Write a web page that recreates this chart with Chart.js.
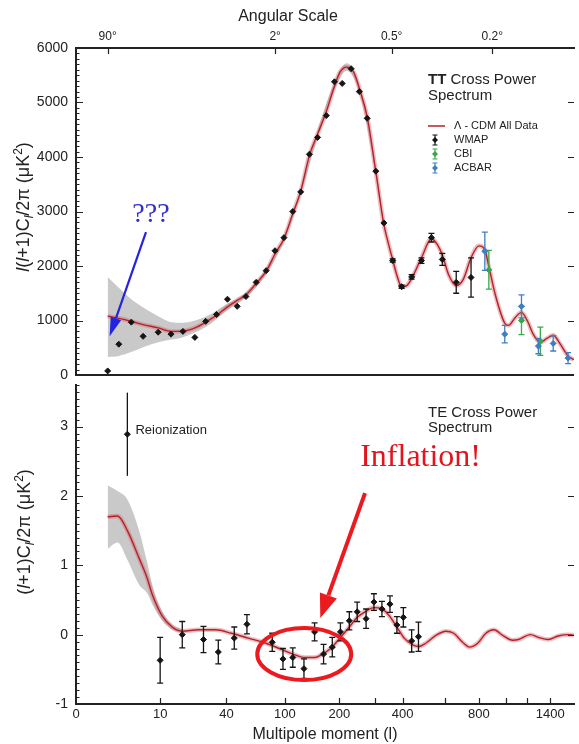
<!DOCTYPE html>
<html><head><meta charset="utf-8">
<script src="https://cdn.jsdelivr.net/npm/chart.js@4.4.1/dist/chart.umd.min.js"></script>
<style>
html,body{margin:0;padding:0;background:#fff;}
body{width:579px;height:744px;position:relative;overflow:hidden;}
canvas{position:absolute;left:0;display:block;}
#tt{top:0}#te{top:380px}
</style></head><body>
<canvas id="tt" width="579" height="380"></canvas>
<canvas id="te" width="579" height="364"></canvas>
<script>
// ---------------- DATA ----------------
// TT: Lambda-CDM model curve
const ttModelL = [2,3.7,5.6,7.4,9.7,15,20,26,31,36,41,51,60,70,81,90,99,114,129,145,160,176,191,202,220,240,256,278,303,332,343,364,382,396,419,442,488,535,563,586,620,665,706,753,800,844,874,926,993,1025,1090,1145,1200,1250,1313,1370,1430,1500,1580,1640];
const ttModelV = [1080,1040,985,925,865,800,805,870,980,1110,1250,1370,1470,1670,1910,2230,2500,2950,3370,4030,4420,4830,5300,5560,5650,5560,5260,4740,3730,2760,2520,2110,1780,1620,1640,1770,2150,2500,2390,2200,1840,1640,1750,2150,2370,2300,1990,1440,950,910,1060,1150,990,750,600,670,730,570,350,280];
// TT: cosmic variance band
const ttBandL  = [2,3.7,5.6,7.4,9.7,15,20,31,41,60,81,99,129,160,191,220,256,303,332];
const ttBandHi = [1800,1600,1390,1240,1080,970,960,1080,1310,1520,1960,2550,3420,4480,5370,5720,5330,3790,2790];
const ttBandLo = [330,350,420,510,600,650,690,890,1190,1420,1860,2450,3320,4360,5230,5580,5190,3670,2730];
// TT: WMAP
const wmapTTL = [2,3.7,5.6,7.4,9.7,14.9,20.3,25.7,30.6,35.5,41,51,60,70.5,80.7,89.8,99,114.5,129,145,160,176,191,208,233,256,278,303,332,364,396,442,488,535,586,665,753];
const wmapTTV = [75,565,970,710,785,750,800,690,985,1110,1390,1260,1440,1700,1915,2280,2520,3000,3360,4050,4360,4760,5380,5350,5620,5200,4710,3740,2790,2100,1620,1800,2100,2520,2120,1700,1790];
const wmapTTErr = [0,0,0,0,0,0,0,0,0,0,0,0,0,0,0,0,0,0,0,0,0,0,0,0,0,0,0,0,0,30,30,40,50,80,110,200,360];
// TT: CBI
const cbiL = [874,1145,1313];
const cbiV = [1930,1000,620];
const cbiErr = [355,260,260];
// TT: ACBAR
const acbarL = [844,993,1145,1296,1430,1580];
const acbarV = [2270,750,1260,530,580,310];
const acbarErr = [350,160,210,140,140,100];

// TE: model curve
const teModelL = [2,3.5,5,6.8,8,8.8,10.9,15.4,19.9,27.5,35.1,45,62.4,79.7,96,114.5,136,154.5,169,184,203,228,250,272,297,325,350,379,407,449,477,510,556,603,650,703,744,794,852,911,978,1064,1118,1226,1296,1383,1480,1580,1640];
const teModelV = [1.70,1.71,1.50,1.10,0.82,0.58,0.27,0.11,0.05,0.07,0.07,0.02,-0.05,-0.12,-0.21,-0.28,-0.33,-0.33,-0.28,-0.20,-0.04,0.11,0.25,0.33,0.39,0.37,0.28,0.11,-0.05,-0.15,-0.17,-0.12,-0.01,0.05,0.02,-0.11,-0.18,-0.12,0.02,0.07,-0.01,-0.08,-0.07,0.00,-0.04,-0.07,-0.02,0.00,-0.01];
// TE: band
const teBandL  = [2,3.5,5,6.8,8,8.8,10.9,15.4,19.9];
const teBandHi = [2.15,2.07,1.95,1.50,1.05,0.72,0.34,0.15,0.08];
const teBandLo = [1.24,1.33,1.08,0.72,0.60,0.44,0.20,0.07,0.02];
// TE: WMAP
const wmapTEL = [5,10,20,29.6,36.3,48,61,87,98,114.5,135,154.5,171,187,203,228,250,275,297,325,354,379,403,442,474];
const wmapTEV = [2.89,-0.37,0.0,-0.07,-0.25,-0.05,0.15,-0.11,-0.35,-0.33,-0.49,0.04,-0.28,-0.18,0.04,0.2,0.33,0.23,0.47,0.37,0.44,0.14,0.25,-0.09,-0.03];
const wmapTEErr = [0.6,0.33,0.19,0.19,0.17,0.16,0.14,0.13,0.15,0.14,0.14,0.13,0.14,0.14,0.13,0.13,0.14,0.14,0.12,0.11,0.12,0.12,0.14,0.16,0.21];
const wmapTECaps = [0,1,1,1,1,1,1,1,1,1,1,1,1,1,1,1,1,1,1,1,1,1,1,1,1];

// ticks
const bottomTickL = [0,10,40,100,200,300,400,600,800,1000,1200,1400];
const bottomTickLabels = ['0','10','40','100','200','','400','','800','','','1400'];
const angTickL = [2,90,360,900];
const angTickLabels = ['90°','2°','0.5°','0.2°'];
const ttYTicks = [0,1000,2000,3000,4000,5000,6000];
const teYTicks = [-1,0,1,2,3];

// ------------- multipole axis transform (piecewise, as in the figure) -------------
const axisKnotL = [0,2,10,40,100,200,300,400,600,800,1000,1200,1400,1600,1800];
const axisKnotT = [0,32,85,152,211,266,302,330,373,407,434,456,479,499,518];
const X_MAX = 503;
function T(l){
  for (let i=1;i<axisKnotL.length;i++){
    if (l<=axisKnotL[i]){
      const a=axisKnotL[i-1], b=axisKnotL[i];
      return axisKnotT[i-1] + (l-a)/(b-a)*(axisKnotT[i]-axisKnotT[i-1]);
    }
  }
  return axisKnotT[axisKnotT.length-1];
}
const pts = (L, V) => L.map((l,i)=>({x:T(l), y:V[i]}));

// ------------- styling -------------
const FONT = '"Liberation Sans", Arial, Helvetica, sans-serif';
const SERIF = '"Liberation Serif", "Times New Roman", serif';
Chart.defaults.font.family = FONT;
Chart.defaults.color = '#222';
const RED = '#b3222b', HALO = 'rgba(214,110,115,0.45)', BAND = '#c9c9c9';
const CLEAR = 'rgba(0,0,0,0)';
const fixBox = (w,h) => (s) => { if (w!=null) s.width=w; if (h!=null) s.height=h; s.paddingLeft=s.paddingRight=s.paddingTop=s.paddingBottom=0; };

const errorBarPlugin = {
  id:'errorBars',
  beforeDatasetDraw(chart, args){
    const ds = chart.data.datasets[args.index];
    if (!ds.errors) return;
    const ys = chart.scales[args.meta.yAxisID];
    const ctx = chart.ctx;
    ctx.save();
    ctx.strokeStyle = ds.errorColor;
    ctx.lineWidth = 1.3;
    args.meta.data.forEach((p,i)=>{
      const e = ds.errors[i]; if (!e) return;
      const v = ds.data[i].y;
      const y1 = ys.getPixelForValue(v+e), y2 = ys.getPixelForValue(v-e);
      const x = p.x, c = (ds.caps && !ds.caps[i]) ? 0 : 3;
      ctx.beginPath();
      ctx.moveTo(x,y1); ctx.lineTo(x,y2);
      if (c){
        ctx.moveTo(x-c,y1); ctx.lineTo(x+c,y1);
        ctx.moveTo(x-c,y2); ctx.lineTo(x+c,y2);
      }
      ctx.stroke();
    });
    ctx.restore();
  }
};

function seg(ctx,x1,y1,x2,y2){ ctx.moveTo(x1,y1); ctx.lineTo(x2,y2); }
function drawRichRotated(ctx, segs, cx, cy, base){
  ctx.save();
  ctx.translate(cx,cy); ctx.rotate(-Math.PI/2);
  ctx.textBaseline='alphabetic'; ctx.textAlign='left'; ctx.fillStyle='#222';
  let w=0;
  segs.forEach(s=>{ ctx.font=s.f; s.w=ctx.measureText(s.t).width; w+=s.w; });
  let x=-w/2;
  segs.forEach(s=>{ ctx.font=s.f; ctx.fillText(s.t, x, base+(s.dy||0)); x+=s.w; });
  ctx.restore();
}
function drawArrow(ctx,x1,y1,x2,y2,color,lw,headLen,headHalf){
  const ang=Math.atan2(y2-y1,x2-x1);
  const bx=x2-headLen*Math.cos(ang), by=y2-headLen*Math.sin(ang);
  ctx.save(); ctx.strokeStyle=color; ctx.fillStyle=color; ctx.lineWidth=lw;
  ctx.beginPath(); ctx.moveTo(x1,y1); ctx.lineTo(bx,by); ctx.stroke();
  ctx.beginPath(); ctx.moveTo(x2,y2);
  ctx.lineTo(bx+headHalf*Math.sin(ang), by-headHalf*Math.cos(ang));
  ctx.lineTo(bx-headHalf*Math.sin(ang), by+headHalf*Math.cos(ang));
  ctx.closePath(); ctx.fill(); ctx.restore();
}
const RF='18px '+FONT, IF='italic 18px '+FONT, SF='12px '+FONT, SIF='italic 12px '+FONT;

function legendMarker(ctx,x,y,color){
  ctx.save(); ctx.strokeStyle=color; ctx.fillStyle=color; ctx.lineWidth=1.2;
  ctx.beginPath(); seg(ctx,x,y-5,x,y+5); seg(ctx,x-2.5,y-5,x+2.5,y-5); seg(ctx,x-2.5,y+5,x+2.5,y+5); ctx.stroke();
  ctx.beginPath(); ctx.moveTo(x,y-3); ctx.lineTo(x+3,y); ctx.lineTo(x,y+3); ctx.lineTo(x-3,y); ctx.closePath(); ctx.fill();
  ctx.restore();
}

// ------------- TT decorations -------------
const ttDecor = {
  id:'ttDecor',
  afterDraw(chart){
    const {ctx, chartArea:a, scales:{x,y}} = chart;
    ctx.save();
    ctx.strokeStyle='#222'; ctx.lineWidth=1.2;
    ctx.beginPath();
    for (let v=0; v<=6000; v+=100){
      const py=Math.round(y.getPixelForValue(v))+0.5;
      const major = v%1000===0;
      seg(ctx,a.left,py,a.left+(major?7:3.5),py);
      if (major && v>0 && v<6000) seg(ctx,a.right,py,a.right-6,py);
    }
    angTickL.forEach(l=>{ const px=Math.round(x.getPixelForValue(T(l)))+0.5; seg(ctx,px,a.top,px,a.top+6); });
    ctx.stroke();
    ctx.lineWidth=2; ctx.beginPath(); seg(ctx,a.left-1,a.bottom,a.right,a.bottom); ctx.stroke();

    ctx.fillStyle='#222';
    ctx.font='16px '+FONT; ctx.textAlign='center'; ctx.textBaseline='middle';
    ctx.fillText('Angular Scale', 288, 17);

    drawRichRotated(ctx,[{t:'l',f:IF},{t:'(',f:RF},{t:'l',f:IF},{t:'+1)C',f:RF},{t:'l',f:SIF,dy:4},{t:'/2π (μK',f:RF},{t:'2',f:SF,dy:-7},{t:')',f:RF}], 23, 207, 6);

    // panel title
    ctx.textAlign='left'; ctx.textBaseline='middle';
    ctx.font='bold 15px '+FONT; ctx.fillText('TT', 428, 80);
    const wTT = ctx.measureText('TT').width;
    ctx.font='15px '+FONT; ctx.fillText(' Cross Power', 428+wTT, 80);
    ctx.fillText('Spectrum', 428, 96);

    // legend
    const ds = chart.data.datasets;
    ctx.strokeStyle=RED; ctx.lineWidth=1.5; ctx.beginPath(); seg(ctx,428,126,445,126); ctx.stroke();
    ctx.font='11px '+FONT; ctx.fillStyle='#222';
    ctx.fillText(ds[3].label, 454, 126);
    [[2,140],[1,154],[0,168]].forEach(([i,yy])=>{
      legendMarker(ctx,435,yy,ds[i].errorColor);
      ctx.fillStyle='#222'; ctx.fillText(ds[i].label, 454, yy);
    });

    // ??? annotation
    ctx.fillStyle='#3131c6'; ctx.font='28px '+SERIF; ctx.textAlign='center'; ctx.textBaseline='middle';
    ctx.fillText('???', x.getPixelForValue(T(8.6)), y.getPixelForValue(2950));
    drawArrow(ctx, x.getPixelForValue(T(7.84)), y.getPixelForValue(2620), x.getPixelForValue(T(2.3)), y.getPixelForValue(711), '#2424e0', 2.2, 19, 5.5);
    ctx.restore();
  }
};

// ------------- TE decorations -------------
const teDecor = {
  id:'teDecor',
  afterDraw(chart){
    const {ctx, chartArea:a, scales:{x,y}} = chart;
    ctx.save();
    ctx.strokeStyle='#222'; ctx.lineWidth=1.2;
    ctx.beginPath();
    for (let k=-10; k<=36; k++){
      const v=k/10;
      const py=Math.round(y.getPixelForValue(v))+0.5;
      const major = k%10===0;
      seg(ctx,a.left,py,a.left+(major?7:3.5),py);
      if (major && k>-10) seg(ctx,a.right,py,a.right-6,py);
    }
    bottomTickL.forEach(l=>{ if(l===0) return; const px=Math.round(x.getPixelForValue(T(l)))+0.5; seg(ctx,px,a.bottom,px,a.bottom-6); });
    ctx.stroke();

    drawRichRotated(ctx,[{t:'(',f:RF},{t:'l',f:IF},{t:'+1)C',f:RF},{t:'l',f:SIF,dy:4},{t:'/2π (μK',f:RF},{t:'2',f:SF,dy:-7},{t:')',f:RF}], 24, 152, 6);

    ctx.fillStyle='#222'; ctx.textAlign='left'; ctx.textBaseline='middle';
    ctx.font='15px '+FONT;
    ctx.fillText('TE Cross Power', 428, 33);
    ctx.fillText('Spectrum', 428, 48);

    ctx.font='13px '+FONT;
    ctx.fillText('Reionization', x.getPixelForValue(T(6.23)), y.getPixelForValue(2.95));

    // Inflation annotation
    ctx.fillStyle='#e2141c'; ctx.font='32px '+SERIF; ctx.textAlign='center';
    ctx.fillText('Inflation!', x.getPixelForValue(T(484)), y.getPixelForValue(2.55));
    drawArrow(ctx, x.getPixelForValue(T(272)), y.getPixelForValue(2.04), x.getPixelForValue(T(165)), y.getPixelForValue(0.24), '#ec1a1f', 4, 24, 9);
    ctx.strokeStyle='#ec1a1f'; ctx.lineWidth=4;
    ctx.beginPath();
    ctx.ellipse(x.getPixelForValue(T(135.5)), y.getPixelForValue(-0.28), 47, 26, 0, 0, Math.PI*2);
    ctx.stroke();
    ctx.restore();
  }
};

const pointDs = (label, L, V, E, color, caps) => ({
  label, data: pts(L,V), errors: E, caps, errorColor: color, showLine:false,
  pointStyle:'rectRot', pointRadius:3, pointBorderWidth:1,
  pointBackgroundColor:color, pointBorderColor:color
});
const curveDs = (label, L, V, color, w) => ({
  label, data: pts(L,V), borderColor:color, borderWidth:w, pointRadius:0,
  cubicInterpolationMode:'monotone', fill:false
});
const bandDs = (label, L, V, fill) => ({
  label, data: pts(L,V), borderColor:CLEAR, borderWidth:1, pointRadius:0,
  cubicInterpolationMode:'monotone', fill: fill ? '+1' : false, backgroundColor: BAND
});
const plainNum = v => String(v);

// ------------- TT chart -------------
new Chart(document.getElementById('tt'), {
  type:'line',
  data:{ datasets:[
    pointDs('ACBAR', acbarL, acbarV, acbarErr, '#3f7fc1'),
    pointDs('CBI', cbiL, cbiV, cbiErr, '#3aa84a'),
    pointDs('WMAP', wmapTTL, wmapTTV, wmapTTErr, '#151515'),
    curveDs('Λ - CDM All Data', ttModelL, ttModelV, RED, 1.4),
    curveDs('halo', ttModelL, ttModelV, HALO, 4.5),
    bandDs('band hi', ttBandL, ttBandHi, true),
    bandDs('band lo', ttBandL, ttBandLo, false)
  ]},
  options:{
    responsive:false, animation:false, events:[],
    layout:{padding:{top:0,left:0,right:0,bottom:3}},
    plugins:{legend:{display:false}, tooltip:{enabled:false}},
    scales:{
      x:{ type:'linear', position:'top', min:0, max:X_MAX,
        afterBuildTicks:s=>{ s.ticks = angTickL.map(l=>({value:T(l)})); },
        afterFit: fixBox(null,48),
        ticks:{ callback:(v,i)=>angTickLabels[i], font:{size:12}, color:'#222', padding:4, maxRotation:0, autoSkip:false },
        grid:{display:false, drawTicks:false},
        border:{display:true, color:'#222', width:2}
      },
      y:{ type:'linear', position:'left', min:0, max:6000,
        afterBuildTicks:s=>{ s.ticks = ttYTicks.map(v=>({value:v})); },
        afterFit: fixBox(76,null),
        ticks:{ callback: plainNum, font:{size:14}, color:'#222', padding:8 },
        grid:{display:false, drawTicks:false},
        border:{display:true, color:'#222', width:2}
      }
    }
  },
  plugins:[errorBarPlugin, ttDecor]
});

// ------------- TE chart -------------
new Chart(document.getElementById('te'), {
  type:'line',
  data:{ datasets:[
    pointDs('WMAP', wmapTEL, wmapTEV, wmapTEErr, '#151515', wmapTECaps),
    curveDs('Λ - CDM', teModelL, teModelV, RED, 1.4),
    curveDs('halo', teModelL, teModelV, HALO, 4.5),
    bandDs('band hi', teBandL, teBandHi, true),
    bandDs('band lo', teBandL, teBandLo, false)
  ]},
  options:{
    responsive:false, animation:false, events:[],
    layout:{padding:{top:5,left:0,right:0,bottom:0}},
    plugins:{legend:{display:false}, tooltip:{enabled:false}},
    scales:{
      x:{ type:'linear', position:'bottom', min:0, max:X_MAX,
        afterBuildTicks:s=>{ s.ticks = bottomTickL.map(l=>({value:T(l)})); },
        afterFit: fixBox(null,40),
        ticks:{ callback:(v,i)=>bottomTickLabels[i], font:{size:13}, color:'#222', padding:3, maxRotation:0, autoSkip:false },
        grid:{display:false, drawTicks:false},
        border:{display:true, color:'#222', width:2},
        title:{display:true, text:'Multipole moment (l)', font:{size:16}, color:'#222', padding:{top:0,bottom:0}}
      },
      y:{ type:'linear', position:'left', min:-1, max:3.6,
        afterBuildTicks:s=>{ s.ticks = teYTicks.map(v=>({value:v})); },
        afterFit: fixBox(76,null),
        ticks:{ callback: plainNum, font:{size:14}, color:'#222', padding:8 },
        grid:{display:false, drawTicks:false},
        border:{display:true, color:'#222', width:2}
      }
    }
  },
  plugins:[errorBarPlugin, teDecor]
});
</script>
</body></html>
